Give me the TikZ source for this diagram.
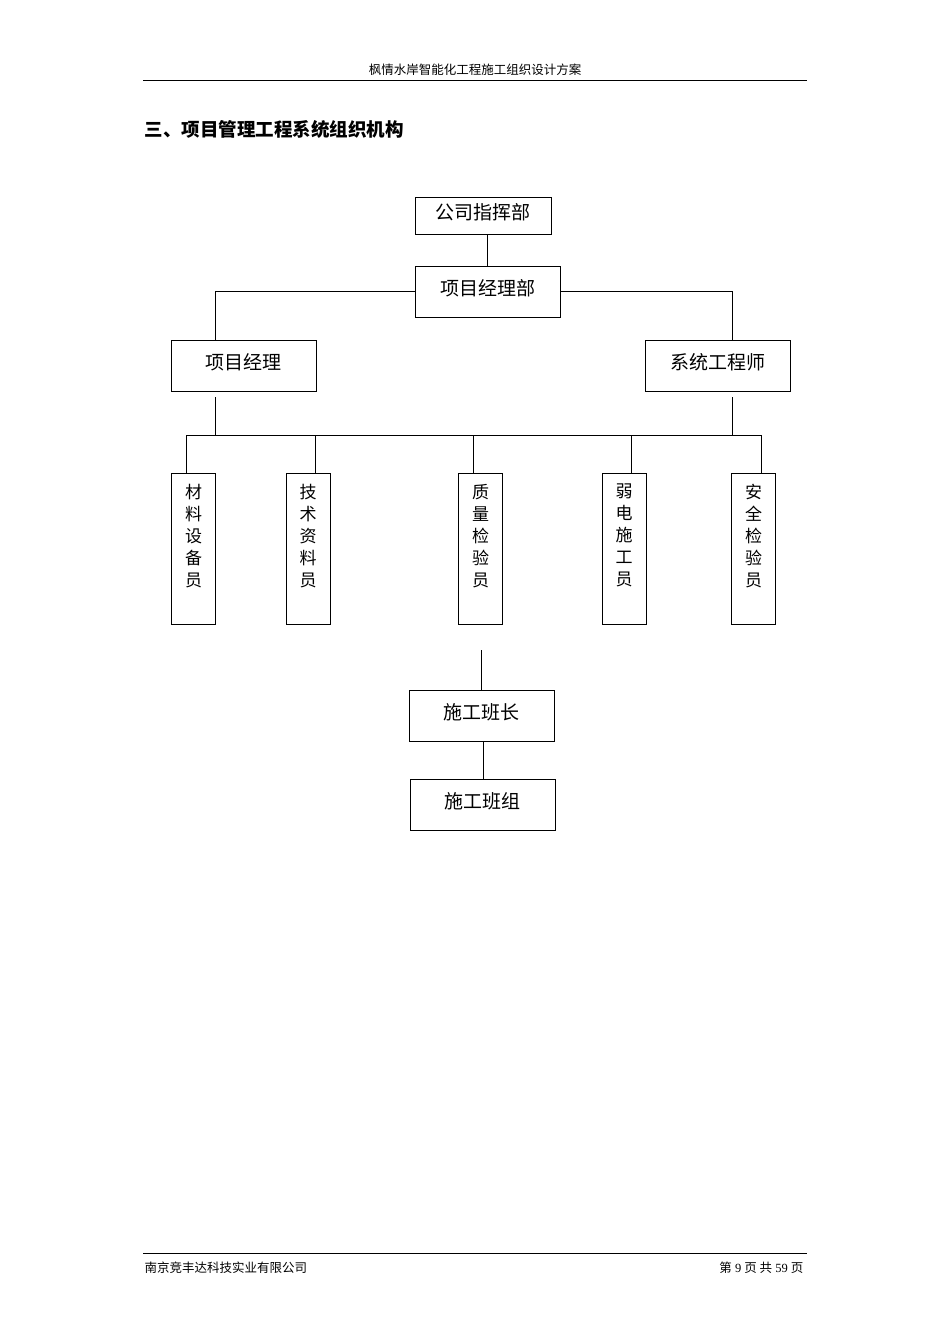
\documentclass[tikz,border=0pt]{standalone}
\usepackage{fontspec}
\setmainfont{Liberation Serif}
\newfontfamily\cjk{Noto Sans CJK SC}
\usetikzlibrary{positioning}
\tikzset{box/.style={draw,thick,inner sep=0pt,text depth=8pt,font=\cjk\fontsize{19pt}{21pt}\selectfont},
  vbox/.style={box,minimum width=44pt,minimum height=151pt,align=center,anchor=north,text depth=28pt,font=\cjk\fontsize{17pt}{22pt}\selectfont},
  ln/.style={thick}}
\begin{document}
\begin{tikzpicture}[x=1pt,y=-1pt]
\useasboundingbox (0,0) rectangle (950,1344);
\draw (143,80)--(807,80);
\node[font=\cjk\fontsize{12.5pt}{14pt}\selectfont] (head) at (475,70) {枫情水岸智能化工程施工组织设计方案};
\node[anchor=west,font=\cjk\bfseries\fontsize{18.5pt}{20pt}\selectfont] (title) at (141,129) {三、项目管理工程系统组织机构};
% boxes
\node[box,minimum width=136pt,minimum height=37pt,thin] (hq) at (483,215.5) {公司指挥部};
\node[box,minimum width=145pt,minimum height=51pt] (pmd) at (487.5,291.5) {项目经理部};
\node[box,minimum width=145pt,minimum height=51pt] (pm) at (243.5,365.5) {项目经理};
\node[box,minimum width=145pt,minimum height=51pt] (se) at (717.5,365.5) {系统工程师};
\node[vbox] (v1) at (193.5,473) {材\\料\\设\\备\\员};
\node[vbox] (v2) at (308,473) {技\\术\\资\\料\\员};
\node[vbox] (v3) at (480.5,473) {质\\量\\检\\验\\员};
\node[vbox] (v4) at (624,473) {弱\\电\\施\\工\\员};
\node[vbox] (v5) at (753.5,473) {安\\全\\检\\验\\员};
\node[box,minimum width=145pt,minimum height=51pt] (lead) at (481.5,715.5) {施工班长};
\node[box,minimum width=145pt,minimum height=51pt] (team) at (482.5,804.5) {施工班组};
% connectors
\draw[ln] (hq.south -| 487,0) -- (pmd.north -| 487,0);
\draw[ln] (pmd.west) -| (pm.north -| 215,0);
\draw[ln] (pmd.east) -| (se.north -| 732,0);
\coordinate (a1) at (215,397); \coordinate (a2) at (732,397);
\draw[ln] (a1) -- (215,435); \draw[ln] (a2) -- (732,435);
\draw[ln] (186,435) -- (761,435);
\foreach \x/\n in {186/v1,315/v2,473/v3,631/v4,761/v5}
  \draw[ln] (\x,435) -- (\n.north -| \x,0);
\coordinate (q) at (481,650);
\draw[ln] (q) -- (lead.north -| 481,0);
\draw[ln] (lead.south -| 483,0) -- (team.north -| 483,0);
% footer
\draw (143,1253)--(807,1253);
\node[anchor=west,font=\cjk\fontsize{12.5pt}{14pt}\selectfont] (firm) at (141,1268) {南京竞丰达科技实业有限公司};
\node[anchor=east,font=\fontsize{12.5pt}{14pt}\selectfont] (page) at (807,1268) {{\cjk 第} 9 {\cjk 页\ 共} 59 {\cjk 页}};
\end{tikzpicture}
\end{document}
